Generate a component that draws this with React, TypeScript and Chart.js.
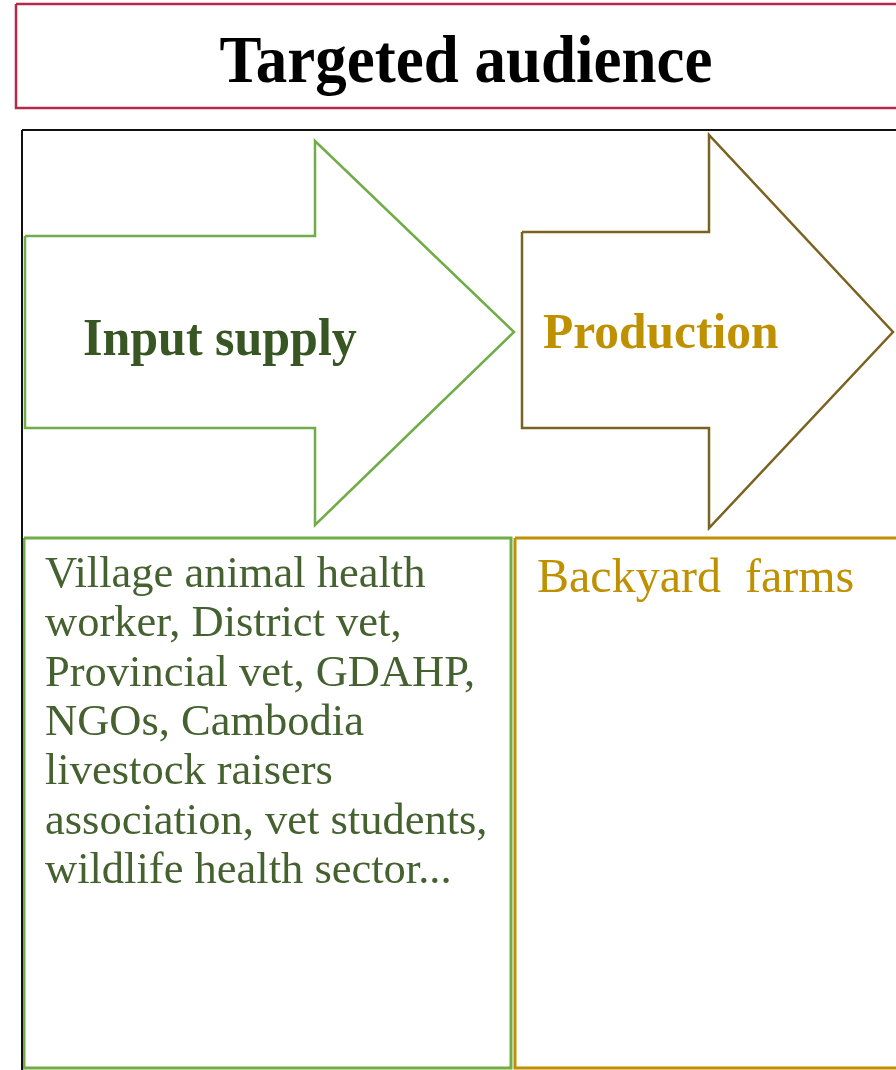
import React, { useEffect, useRef } from "react";
import { Chart, registerables } from "chart.js";

Chart.register(...registerables);

// ---- Text content (data) ----
const titleText = "Targeted audience";
const stageLabels = ["Input supply", "Production"];
const inputSupplyAudience = [
  "Village animal health",
  "worker, District vet,",
  "Provincial vet, GDAHP,",
  "NGOs, Cambodia",
  "livestock raisers",
  "association, vet students,",
  "wildlife health sector...",
];
const productionAudience = ["Backyard farms"];

// ---- Geometry (layout, in canvas units) ----
const W = 896;
const H = 1070;

type Pt = { x: number; y: number };
const poly = (xs: number[], ys: number[]): Pt[] => xs.map((x, i) => ({ x, y: ys[i] }));

const titleBoxX = [16, 930, 930, 16, 16];
const titleBoxY = [4, 4, 108, 108, 4];
const mainBoxX = [22, 930, 930, 22, 22];
const mainBoxY = [130, 130, 1090, 1090, 130];
const arrow1X = [25, 315, 315, 514, 315, 315, 25, 25];
const arrow1Y = [236, 236, 141, 332, 525, 428, 428, 236];
const arrow2X = [522, 709, 709, 893, 709, 709, 522, 522];
const arrow2Y = [232, 232, 135, 332, 528, 428, 428, 232];
const leftBoxX = [24, 511, 511, 24, 24];
const leftBoxY = [538, 538, 1068, 1068, 538];
const rightBoxX = [515, 930, 930, 515, 515];
const rightBoxY = [538, 538, 1068, 1068, 538];

const SERIF = '"Liberation Serif", "Times New Roman", serif';

function stretchedText(ctx: CanvasRenderingContext2D, text: string, x: number, y: number, sy: number) {
  ctx.save();
  ctx.translate(x, y);
  ctx.scale(1, sy);
  ctx.fillText(text, 0, 0);
  ctx.restore();
}

const textPlugin = {
  id: "diagramText",
  afterDatasetsDraw(chart: any) {
    const { ctx, scales } = chart;
    const px = (v: number) => scales.x.getPixelForValue(v);
    const py = (v: number) => scales.y.getPixelForValue(v);
    ctx.save();
    ctx.textBaseline = "alphabetic";

    // Title
    ctx.fillStyle = "#000000";
    ctx.font = `bold 63px ${SERIF}`;
    ctx.textAlign = "center";
    stretchedText(ctx, titleText, px(466), py(82), 1.08);

    // Stage labels
    ctx.textAlign = "left";
    ctx.font = `bold 50px ${SERIF}`;
    ctx.fillStyle = "#375623";
    stretchedText(ctx, stageLabels[0], px(83), py(355), 1.05);
    ctx.font = `bold 49.5px ${SERIF}`;
    ctx.fillStyle = "#bf9000";
    stretchedText(ctx, stageLabels[1], px(543), py(348), 1.03);

    // Audience lists
    ctx.font = `44.5px ${SERIF}`;
    ctx.fillStyle = "#44612f";
    inputSupplyAudience.forEach((line, i) => {
      ctx.fillText(line, px(45), py(587 + i * 49.3));
    });
    ctx.font = `48px ${SERIF}`;
    ctx.fillStyle = "#bf9000";
    try {
      (ctx as any).wordSpacing = "12px";
    } catch (e) {
      /* ignore */
    }
    productionAudience.forEach((line, i) => {
      ctx.fillText(line, px(537), py(592 + i * 49.3));
    });
    ctx.restore();
  },
};

function shape(points: Pt[], color: string, width: number) {
  return {
    data: points,
    showLine: true,
    borderColor: color,
    backgroundColor: color,
    borderWidth: width,
    pointRadius: 0,
    pointHoverRadius: 0,
    fill: false,
    tension: 0,
    borderJoinStyle: "miter" as const,
    clip: false as any,
  };
}

export default function App() {
  const canvasRef = useRef<HTMLCanvasElement | null>(null);

  useEffect(() => {
    const canvas = canvasRef.current;
    if (!canvas) return;
    const chart = new Chart(canvas, {
      type: "scatter",
      data: {
        datasets: [
          shape(poly(titleBoxX, titleBoxY), "#b52a48", 2.5),
          shape(poly(mainBoxX, mainBoxY), "#111111", 2),
          shape(poly(arrow1X, arrow1Y), "#70ad47", 2.5),
          shape(poly(arrow2X, arrow2Y), "#7a6320", 2.5),
          shape(poly(leftBoxX, leftBoxY), "#70ad47", 3),
          shape(poly(rightBoxX, rightBoxY), "#bf9000", 3),
        ],
      },
      options: {
        animation: false,
        responsive: false,
        maintainAspectRatio: false,
        events: [],
        layout: { padding: 0 },
        plugins: {
          legend: { display: false },
          tooltip: { enabled: false },
        },
        scales: {
          x: { type: "linear", min: 0, max: W, display: false },
          y: { type: "linear", min: 0, max: H, reverse: true, display: false },
        },
      },
      plugins: [textPlugin],
    });
    return () => chart.destroy();
  }, []);

  return (
    <div style={{ position: "absolute", left: 0, top: 0, width: W, height: H, background: "#ffffff" }}>
      <canvas ref={canvasRef} width={W} height={H} style={{ display: "block", width: W, height: H }} />
    </div>
  );
}
